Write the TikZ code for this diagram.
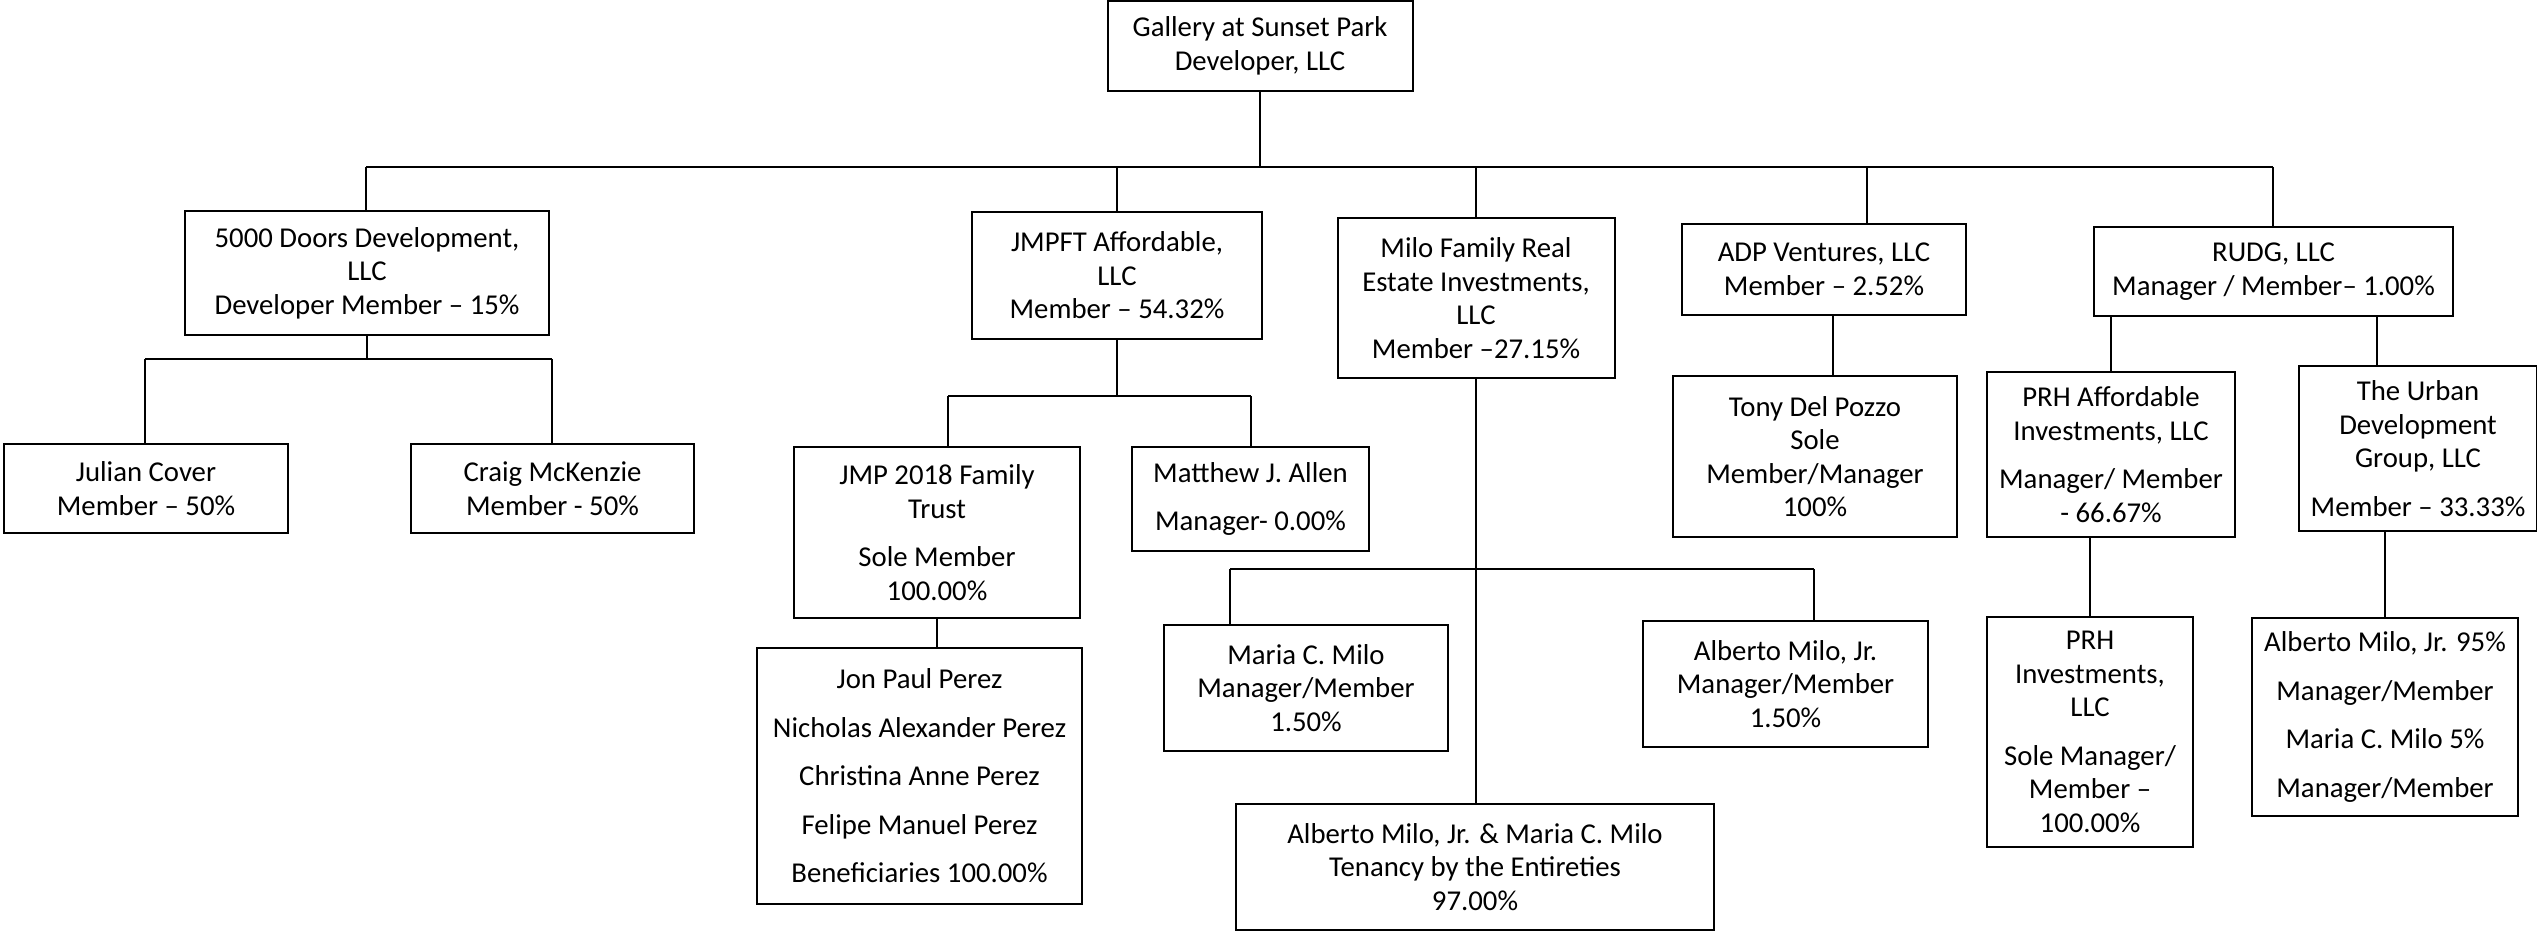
\documentclass[tikz,border=0pt]{standalone}
\usepackage{fontspec}
\setmainfont{Carlito}
\usepackage{tikz}
\tikzset{entity/.style={draw, line width=0.8pt, align=center, inner sep=0pt,
    font=\fontsize{11.5}{13.4}\selectfont},
  link/.style={line width=0.5pt}}

\begin{document}
\begin{tikzpicture}[x=0.4pt,y=-0.4pt]
            \useasboundingbox (0,0) rectangle (2537,931);
            % top level
            \node[entity, minimum width=122pt, minimum height=36pt] (top) at (1260,46) {Gallery at Sunset Park\\Developer, LLC};
            % members
            \node[entity, minimum width=145.6pt, minimum height=49.6pt] (doors) at (367,273) {5000 Doors Development,\\LLC\\Developer Member -- 15\%};
            \node[entity, minimum width=116pt, minimum height=50.8pt] (jmpft) at (1117,275.5) {JMPFT Affordable,\\LLC\\Member -- 54.32\%};
            \node[entity, minimum width=110.8pt, minimum height=64pt] (milo) at (1476,298) {Milo Family Real\\Estate Investments,\\LLC\\Member --27.15\%};
            \node[entity, minimum width=113.6pt, minimum height=36.4pt] (adp) at (1824,269.5) {ADP Ventures, LLC\\Member -- 2.52\%};
            \node[entity, minimum width=143.6pt, minimum height=35.6pt] (rudg) at (2273.5,271.5) {RUDG, LLC\\Manager / Member-- 1.00\%};
            % second level
            \node[entity, minimum width=113.6pt, minimum height=35.6pt] (julian) at (146,488.5) {Julian Cover\\Member -- 50\%};
            \node[entity, minimum width=113.2pt, minimum height=35.6pt] (craig) at (552.5,488.5) {Craig McKenzie\\Member - 50\%};
            \node[entity, minimum width=114.4pt, minimum height=68.4pt] (jmp) at (937,532.5) {JMP 2018 Family\\Trust\\[6pt]Sole Member\\100.00\%};
            \node[entity, minimum width=94.8pt, minimum height=41.6pt] (matthew) at (1250.5,499) {Matthew J. Allen\\[6pt]Manager- 0.00\%};
            \node[entity, minimum width=130pt, minimum height=102.4pt] (perez) at (919.5,776) {Jon Paul Perez\\[6pt]Nicholas Alexander Perez\\[6pt]Christina Anne Perez\\[6pt]Felipe Manuel Perez\\[6pt]Beneficiaries 100.00\%};
            \node[entity, minimum width=113.6pt, minimum height=64.4pt] (tony) at (1815,456.5) {Tony Del Pozzo\\Sole\\Member/Manager\\100\%};
            \node[entity, minimum width=99.2pt, minimum height=66pt] (prhaff) at (2111,454.5) {PRH Affordable\\Investments, LLC\\[6pt]Manager/ Member\\- 66.67\%};
            \node[entity, minimum width=95.2pt, minimum height=66pt] (urban) at (2418,448.5) {The Urban\\Development\\Group, LLC\\[6pt]Member -- 33.33\%};
            \node[entity, minimum width=113.6pt, minimum height=50.4pt] (maria) at (1306,688) {Maria C. Milo\\Manager/Member\\1.50\%};
            \node[entity, minimum width=114pt, minimum height=50.4pt] (alberto) at (1785.5,684) {Alberto Milo, Jr.\\Manager/Member\\1.50\%};
            \node[entity, minimum width=191.2pt, minimum height=50.4pt] (tenancy) at (1475,867) {Alberto Milo, Jr. \& Maria C. Milo\\Tenancy by the Entireties\\97.00\%};
            \node[entity, minimum width=82.4pt, minimum height=92pt] (prhinv) at (2090,732) {PRH\\Investments,\\LLC\\[6pt]Sole Manager/\\Member --\\100.00\%};
            \node[entity, minimum width=106.4pt, minimum height=79.2pt] (albmaria) at (2385,717) {Alberto Milo, Jr. 95\%\\[6pt]Manager/Member\\[6pt]Maria C. Milo 5\%\\[6pt]Manager/Member};
            % bus lines
            \coordinate (b1) at (366,167);
            \coordinate (b2) at (1117,167);
            \coordinate (b3) at (1476,167);
            \coordinate (b4) at (1867,167);
            \coordinate (b5) at (2273,167);
            \coordinate (d1) at (145,359);
            \coordinate (d2) at (552,359);
            \coordinate (j1) at (948,396);
            \coordinate (j2) at (1251,396);
            \coordinate (m1) at (1230,569);
            \coordinate (m2) at (1814,569);
            \coordinate (a1) at (1833,0);
            \coordinate (r2) at (2377,0);
            \draw[link] (top.south) -- (top.south |- b1);
            \draw[link] (b1) -- (b5);
            \draw[link] (b1) -- (b1 |- doors.north);
            \draw[link] (b2) -- (b2 |- jmpft.north);
            \draw[link] (b3) -- (b3 |- milo.north);
            \draw[link] (b4) -- (b4 |- adp.north);
            \draw[link] (b5) -- (b5 |- rudg.north);
            \draw[link] (doors.south) -- (doors.south |- d1);
            \draw[link] (d1) -- (d2);
            \draw[link] (d1) -- (d1 |- julian.north);
            \draw[link] (d2) -- (d2 |- craig.north);
            \draw[link] (jmpft.south) -- (jmpft.south |- j1);
            \draw[link] (j1) -- (j2);
            \draw[link] (j1) -- (j1 |- jmp.north);
            \draw[link] (j2) -- (j2 |- matthew.north);
            \draw[link] (jmp.south) -- (jmp.south |- perez.north);
            \draw[link] (milo.south) -- (milo.south |- tenancy.north);
            \draw[link] (m1) -- (m2);
            \draw[link] (m1) -- (m1 |- maria.north);
            \draw[link] (m2) -- (m2 |- alberto.north);
            \draw[link] (a1 |- adp.south) -- (a1 |- tony.north);
            \draw[link] (prhaff.north |- rudg.south) -- (prhaff.north);
            \draw[link] (r2 |- rudg.south) -- (r2 |- urban.north);
            \draw[link] (prhinv.north |- prhaff.south) -- (prhinv.north);
            \draw[link] (albmaria.north |- urban.south) -- (albmaria.north);
        \end{tikzpicture}
\end{document}
